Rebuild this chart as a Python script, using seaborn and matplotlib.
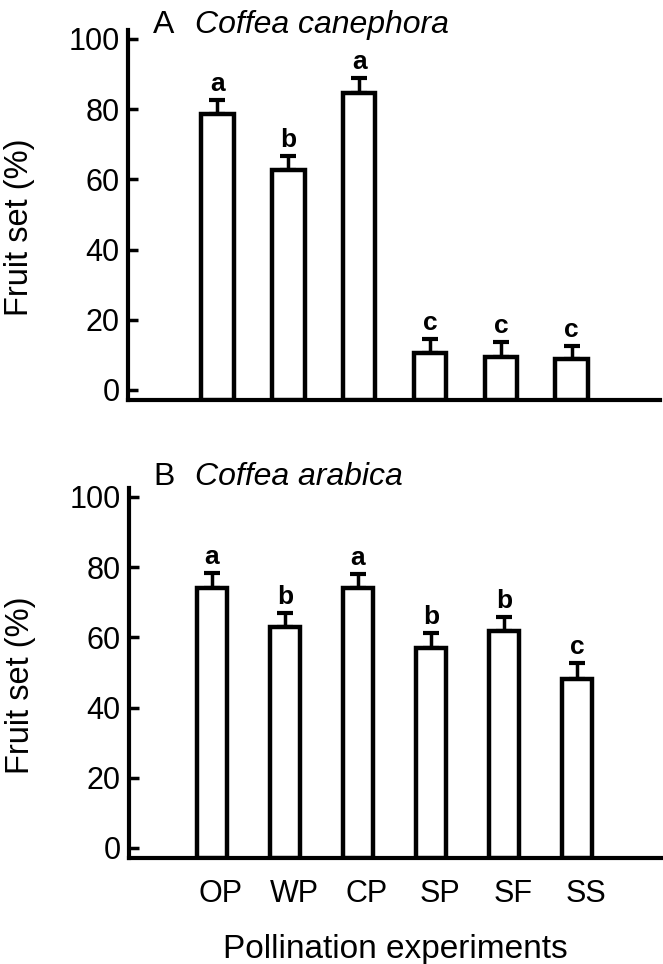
import matplotlib
matplotlib.use("Agg")
import matplotlib.pyplot as plt
import matplotlib.transforms as mtrans
import seaborn as sns
import pandas as pd
import numpy as np

treatments = ["OP", "WP", "CP", "SP", "SF", "SS"]
canephora_mean = [78.7, 62.6, 84.6, 10.6, 9.5, 8.8]
canephora_se = [3.8, 4.0, 4.3, 3.8, 4.1, 3.8]
canephora_letters = ["a", "b", "a", "c", "c", "c"]
arabica_mean = [73.9, 62.9, 73.9, 57.0, 61.7, 48.2]
arabica_se = [4.5, 4.1, 4.2, 4.1, 4.2, 4.4]
arabica_letters = ["a", "b", "a", "b", "b", "c"]
yticks = [0, 20, 40, 60, 80, 100]

sns.set_theme(style="ticks")
plt.rcParams["font.family"] = ["Liberation Sans", "DejaVu Sans"]
plt.rcParams["text.color"] = "black"
plt.rcParams["axes.labelcolor"] = "black"
plt.rcParams["xtick.color"] = "black"
plt.rcParams["ytick.color"] = "black"
plt.rcParams["axes.edgecolor"] = "black"

W, H = 663, 964
fig = plt.figure(figsize=(W / 100, H / 100), dpi=100)
ax_a = fig.add_axes([128 / W, 1 - 400 / H, 532 / W, 370 / H])
ax_b = fig.add_axes([129 / W, 1 - 858 / H, 533 / W, 370 / H])

YLOW, YHIGH = -2.85, 102.5
panels = [
    (ax_a, "A", "Coffea canephora", canephora_mean, canephora_se, canephora_letters,
     (-1.263, 6.246), 0.46, 33),
    (ax_b, "B", "Coffea arabica", arabica_mean, arabica_se, arabica_letters,
     (-1.134, 6.16), 0.41, 485),
]

for ax, tag, species, means, ses, letters, xlim, w, title_y in panels:
    df = pd.DataFrame({"treatment": treatments, "fruit_set": means})
    sns.barplot(data=df, x="treatment", y="fruit_set", ax=ax, color="white",
                edgecolor="black", linewidth=3.2, width=w, errorbar=None,
                saturation=1, zorder=3)
    for p in ax.patches:
        top = p.get_y() + p.get_height()
        p.set_y(YLOW)
        p.set_height(top - YLOW)
    n = len(treatments)
    ax.errorbar(np.arange(n), means, yerr=[np.zeros(n), ses], fmt="none",
                ecolor="black", elinewidth=2.5, capsize=6, capthick=3, zorder=2)
    for i, (m, s, l) in enumerate(zip(means, ses, letters)):
        ax.annotate(l, (i, m + s), xytext=(0, 6.5), textcoords="offset points",
                    ha="center", va="baseline", fontsize=19, fontweight="bold",
                    color="black")
    ax.set_xlim(*xlim)
    ax.set_ylim(YLOW, YHIGH)
    ax.set_yticks(yticks)
    ax.set_yticklabels([str(t) for t in yticks])
    sns.despine(ax=ax)
    for sp in ("left", "bottom"):
        ax.spines[sp].set_linewidth(3)
        ax.spines[sp].set_color("black")
    ax.tick_params(axis="y", direction="in", length=7, width=2.5, labelsize=22,
                   pad=6, colors="black")
    ax.tick_params(axis="x", length=0, labelsize=22, pad=15, colors="black")
    ax.set_ylabel("Fruit set (%)", fontsize=23.5, color="black")
    ax.yaxis.set_label_coords(-0.175, 0.467)
    ax.set_xlabel("")
    fig.text(153 / W, 1 - title_y / H, tag, fontsize=23, va="baseline", ha="left",
             color="black")
    fig.text(195 / W, 1 - title_y / H, species, fontsize=23, style="italic",
             va="baseline", ha="left", color="black")

ax_a.set_xticklabels([])
offset = mtrans.ScaledTranslation(9 / 100, 0, fig.dpi_scale_trans)
for lab in ax_b.get_xticklabels():
    lab.set_transform(lab.get_transform() + offset)
ax_b.set_xlabel("Pollination experiments", fontsize=24, color="black")
ax_b.xaxis.set_label_coords(0.5, -0.205)

fig.savefig("out.png", dpi=100, facecolor="white")
